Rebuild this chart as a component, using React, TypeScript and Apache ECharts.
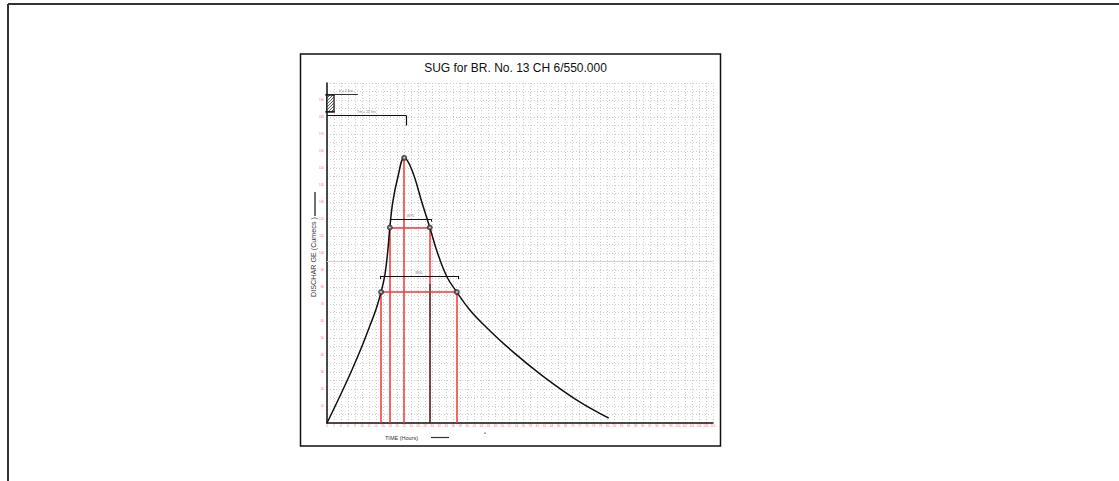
import React, { useEffect, useRef } from "react";
import * as echarts from "echarts";

const titleText = "SUG for BR. No. 13 CH 6/550.000";
const yAxisName = "DISCHAR GE (Cumecs )";
const xAxisName = "TIME (Hours)";

// Hydrograph ordinates (hours, cumecs)
const timeHours = [0, 3.7, 7.1, 10.0, 12.3, 14.0, 15.4, 16.5, 17.4, 17.9, 18.8, 20.2, 22, 24.2, 27.1, 29.3, 31.5, 34.2, 37.0, 40.7, 45.6, 53.0, 61.5, 71.2, 80.3];
const discharge = [0, 15.9, 31.2, 45.3, 57.6, 67.1, 77, 87.1, 102.9, 115, 130.6, 144.7, 156, 148.8, 129.4, 115, 100, 85.9, 77, 66.5, 55.9, 41.8, 27.6, 13.5, 2.9];

// Axis ranges / ticks
const xMin = 0, xMax = 110, xStep = 2;
const yMin = 0, yMax = 200, yStep = 10;

// Key SUG parameters
const peakTime = 22, peakQ = 156;
const w75Level = 115, w75Left = 17.9, w75Right = 29.3;
const w50Level = 77, w50Left = 15.4, w50Right = 37.0;
const w75BarLevel = 120, w75BarLeft = 17.9, w75BarRight = 29.6;
const w50BarLevel = 86.6, w50BarLeft = 15.1, w50BarRight = 37.3;
const tmLevel = 181, tmEnd = 22.5;
const trLevel = 193.5, trStart = 2, trEnd = 8.8;
const trBoxX = [0, 2], trBoxY = [183, 193];
const tbLevel = -4.1, tbEnd = 106.5;
const refLevel = 95;
const annotationLabels = { w75: "W75", w50: "W50", tm: "Tm = 22 hrs", tr: "tr = 2 hrs", tb: "TB = 106 hrs" };

const RED = "#f53535";
const DARK = "#5a1818";
const GRID = "#cdcdcd";

function seg(x1: number, y1: number, x2: number, y2: number, color: string, width: number, label?: string) {
  return [
    {
      coord: [x1, y1],
      lineStyle: { color, width, type: "solid" },
      label: label
        ? { show: true, formatter: label, position: "middle", fontSize: 3.5, color: "#777", distance: 1 }
        : { show: false },
    },
    { coord: [x2, y2] },
  ];
}

export default function App() {
  const ref = useRef<HTMLDivElement>(null);
  useEffect(() => {
    if (!ref.current) return;
    const chart = echarts.init(ref.current, null, { renderer: "svg" });
    const curve = timeHours.map((t, i) => [t, discharge[i]]);
    const markSegs = [
      seg(xMin, refLevel, xMax, refLevel, "#d4d4d4", 1),
      seg(w50Left, 0, w50Left, w50Level, RED, 1.5),
      seg(w75Left, 0, w75Left, w75Level, RED, 1.5),
      seg(peakTime, 0, peakTime, peakQ, RED, 1.5),
      seg(w75Right, 82, w75Right, w75Level, RED, 1.5),
      seg(w75Right, 0, w75Right, 82, DARK, 1.6),
      seg(w50Right, 0, w50Right, w50Level, RED, 1.5),
      seg(w75Left, w75Level, w75Right, w75Level, RED, 1.5),
      seg(w50Left, w50Level, w50Right, w50Level, RED, 1.5),
      seg(w75BarLeft, w75BarLevel, w75BarRight, w75BarLevel, "#111", 1.2, annotationLabels.w75),
      seg(w75BarLeft, w75BarLevel, w75BarLeft, w75BarLevel - 1.5, "#111", 1),
      seg(w75BarRight, w75BarLevel, w75BarRight, w75BarLevel - 1.5, "#111", 1),
      seg(w50BarLeft, w50BarLevel, w50BarRight, w50BarLevel, "#111", 1.2, annotationLabels.w50),
      seg(w50BarLeft, w50BarLevel, w50BarLeft, w50BarLevel - 2, "#111", 1),
      seg(w50BarRight, w50BarLevel, w50BarRight, w50BarLevel - 2, "#111", 1),
      seg(0, tmLevel, tmEnd, tmLevel, "#111", 1.2, annotationLabels.tm),
      seg(tmEnd, tmLevel, tmEnd, tmLevel - 6, "#111", 1.2),
      seg(trStart, trLevel, trEnd, trLevel, "#333", 1, annotationLabels.tr),
      seg(0, tbLevel, tbEnd, tbLevel, "#111", 1.2, annotationLabels.tb),
      seg(tbEnd, 0, tbEnd, tbLevel - 0.6, "#111", 1.2),
      seg(xMax, 0, xMax + 2, 0, "#111", 1.5),
    ];

    chart.setOption({
      animation: false,
      grid: { left: 327, top: 83, width: 386, height: 340, containLabel: false },
      xAxis: {
        type: "value",
        min: xMin,
        max: xMax,
        interval: xStep,
        axisLine: { show: true, onZero: false, lineStyle: { color: "#111", width: 1.5 } },
        axisTick: { show: false },
        axisLabel: { color: "#ff6a6a", fontSize: 3, margin: 1.5, fontFamily: "Liberation Sans" },
        splitLine: { show: true, lineStyle: { color: GRID, type: [1, 2], width: 1 } },
      },
      yAxis: {
        type: "value",
        min: yMin,
        max: yMax,
        interval: yStep,
        axisLine: { show: true, onZero: false, lineStyle: { color: "#111", width: 1.5 } },
        axisTick: { show: false },
        axisLabel: {
          color: "#ff6a6a",
          fontSize: 3,
          margin: 3,
          showMinLabel: false,
          showMaxLabel: false,
          fontFamily: "Liberation Sans",
        },
        splitLine: { show: true, lineStyle: { color: GRID, type: [1, 2], width: 1 } },
        minorTick: { show: false, splitNumber: 2 },
        minorSplitLine: { show: true, lineStyle: { color: GRID, type: [1, 2], width: 1 } },
      },
      series: [
        {
          type: "line",
          data: [[0, 0]],
          showSymbol: false,
          clip: false,
          silent: true,
          z: 2,
          markLine: {
            silent: true,
            symbol: ["none", "none"],
            animation: false,
            data: markSegs,
          },
        },
        {
          type: "line",
          data: curve,
          smooth: 0.4,
          showSymbol: false,
          lineStyle: { color: "#111", width: 1.5 },
          z: 5,
        },
        {
          type: "scatter",
          data: [
            [w75Left, w75Level],
            [w75Right, w75Level],
            [w50Left, w50Level],
            [w50Right, w50Level],
            [peakTime, peakQ],
          ],
          symbol: "emptyCircle",
          symbolSize: 4,
          itemStyle: { color: "#333", borderColor: "#333", borderWidth: 1 },
          z: 6,
        },
        {
          type: "custom",
          data: [[trBoxX[0], trBoxY[0], trBoxX[1], trBoxY[1]]],
          clip: false,
          z: 4,
          renderItem: (params: any, api: any) => {
            const p0 = api.coord([api.value(0), api.value(3)]);
            const p1 = api.coord([api.value(2), api.value(1)]);
            const x0 = p0[0], y0 = p0[1], x1 = p1[0], y1 = p1[1];
            const w = x1 - x0;
            const children: any[] = [
              { type: "rect", shape: { x: x0, y: y0, width: w, height: y1 - y0 }, style: { fill: "#fff", stroke: "#111", lineWidth: 1.2 } },
            ];
            for (let t = y0 + 3; t < y1 + w; t += 3) {
              let sx = x0, sy = t;
              if (sy > y1) { sx = x0 + (sy - y1); sy = y1; }
              let ex = x0 + w, ey = t - w;
              if (ey < y0) { ex = x0 + (t - y0); ey = y0; }
              children.push({ type: "line", shape: { x1: sx, y1: sy, x2: ex, y2: ey }, style: { stroke: "#222", lineWidth: 0.8 } });
            }
            children.push({ type: "line", shape: { x1: x0 - 2, y1: y0, x2: x1 + 1, y2: y0 }, style: { stroke: "#111", lineWidth: 1 } });
            children.push({ type: "line", shape: { x1: x0 - 2, y1: y1, x2: x1 + 1, y2: y1 }, style: { stroke: "#111", lineWidth: 1 } });
            return { type: "group", children };
          },
        },
        {
          type: "scatter",
          data: [[45, -5.9]],
          symbolSize: 1.5,
          itemStyle: { color: "#444" },
          clip: false,
        },
      ],
      graphic: [
        { type: "line", shape: { x1: 8, y1: 4, x2: 1119, y2: 4 }, style: { stroke: "#333", lineWidth: 2 } },
        { type: "line", shape: { x1: 8, y1: 4, x2: 8, y2: 481 }, style: { stroke: "#333", lineWidth: 2 } },
        { type: "rect", shape: { x: 300.5, y: 54, width: 420, height: 392 }, style: { fill: "none", stroke: "#111", lineWidth: 1.5 } },
        {
          type: "text",
          x: 515.5,
          y: 68,
          style: { text: titleText, fontSize: 12, fontFamily: "Liberation Sans", fill: "#111", align: "center", verticalAlign: "middle" },
        },
        {
          type: "text",
          x: 313,
          y: 257,
          rotation: Math.PI / 2,
          style: { text: yAxisName, fontSize: 7.2, fontFamily: "Liberation Sans", fill: "#333", align: "center", verticalAlign: "middle" },
        },
        { type: "line", shape: { x1: 315, y1: 192, x2: 315, y2: 216 }, style: { stroke: "#111", lineWidth: 1.2 } },
        {
          type: "text",
          x: 401.5,
          y: 438,
          style: { text: xAxisName, fontSize: 5.5, fontFamily: "Liberation Sans", fill: "#333", align: "center", verticalAlign: "middle" },
        },
        { type: "line", shape: { x1: 431, y1: 437.5, x2: 449, y2: 437.5 }, style: { stroke: "#333", lineWidth: 1.2 } },
      ],
    });
    return () => chart.dispose();
  }, []);
  return <div ref={ref} style={{ position: "absolute", left: 0, top: 0, width: 1119, height: 481 }} />;
}
